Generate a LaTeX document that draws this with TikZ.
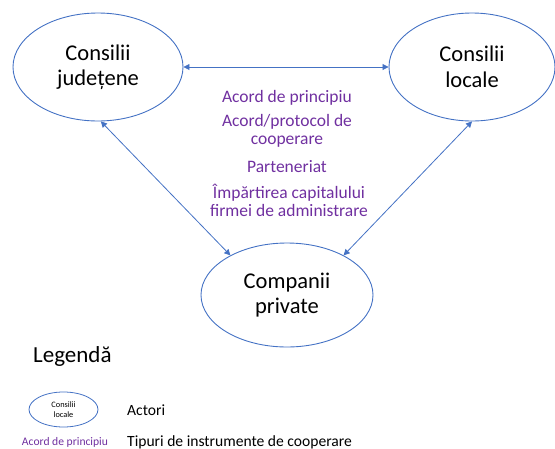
\documentclass[tikz,border=0pt]{standalone}
\usepackage{fontspec}
\setmainfont{Carlito}
\usetikzlibrary{arrows.meta,shapes.geometric}
\definecolor{actorblue}{HTML}{4472C4}
\definecolor{instrpurple}{HTML}{7030A0}

\begin{document}
\begin{tikzpicture}[x=1pt,y=-1pt,
		actor/.style={ellipse,draw=actorblue,line width=0.9pt,align=center,inner sep=0pt,
			font=\fontsize{22.5}{25.5}\selectfont},
		instr/.style={text=instrpurple,align=center,inner sep=0pt,
			font=\fontsize{17.5}{17.5}\selectfont},
		link/.style={draw=actorblue,line width=0.8pt,
			{Triangle[length=6pt,width=6pt]}-{Triangle[length=6pt,width=6pt]}},
		legtext/.style={anchor=base west,inner sep=0pt,font=\fontsize{15.6}{18}\selectfont}
	]
			\useasboundingbox (0,0) rectangle (555,448);

			\node[actor,minimum width=170pt,minimum height=108pt] (judetene) at (98,67) {Consilii\\județene};
			\node[actor,minimum width=166pt,minimum height=108pt] (locale) at (472,67) {Consilii\\locale};
			\node[actor,minimum width=172pt,minimum height=104pt] (companii) at (287,295) {Companii\\private};

			\draw[link] (judetene.east) -- (locale.west);
			\draw[link] (judetene.-87) -- (companii.145);
			\draw[link] (locale.south) -- (companii.35);

			% base = baseline of the last line
			\node[instr,anchor=base] (acord) at (287,102) {Acord de principiu};
			\node[instr,anchor=base] (protocol) at (287,144) {Acord/protocol de\\cooperare};
			\node[instr,anchor=base] (parteneriat) at (287,172) {Parteneriat};
			\node[instr,anchor=base] (capital) at (289,216) {Împărtirea capitalului\\firmei de administrare};

			% legenda
			\node[anchor=base west,inner sep=0pt,font=\fontsize{23}{26}\selectfont] (legenda) at (33,362) {Legendă};
			\node[ellipse,draw=actorblue,line width=0.8pt,align=center,inner sep=0pt,
				minimum width=69pt,minimum height=35pt,font=\fontsize{8.3}{9.5}\selectfont] (legactor) at (63.5,409.5) {Consilii\\locale};
			\node[legtext] (actori) at (127,415) {Actori};
			\node[anchor=base,text=instrpurple,inner sep=0pt,font=\fontsize{11.6}{13}\selectfont] (leginstr) at (65,445) {Acord de principiu};
			\node[legtext] (tipuri) at (127,446) {Tipuri de instrumente de cooperare};
\end{tikzpicture}
\end{document}
